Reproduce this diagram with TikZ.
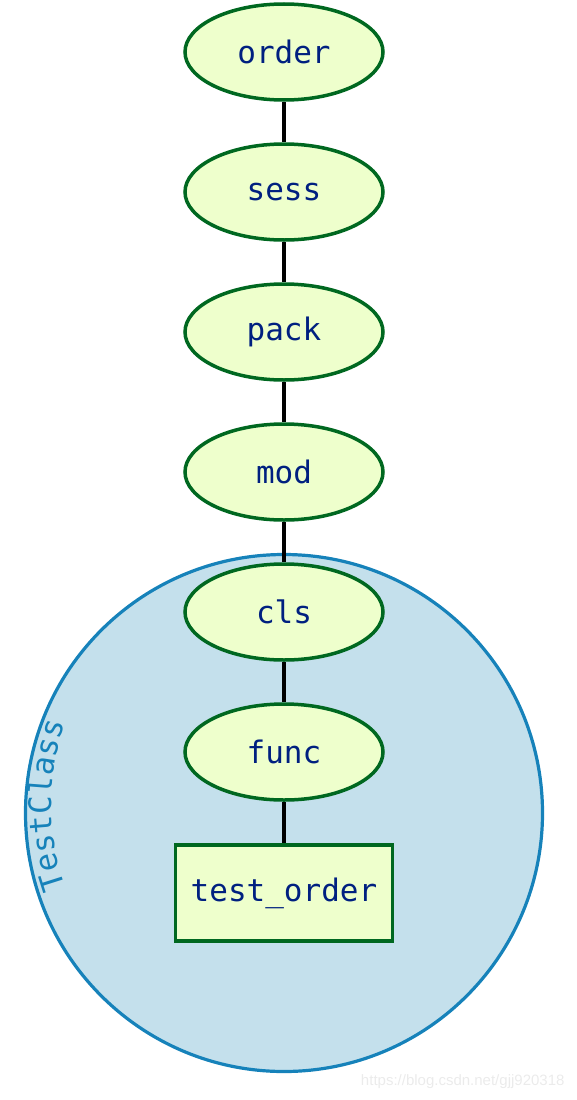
\documentclass[tikz,border=0pt]{standalone}
\usepackage{fontspec}
\setmonofont{DejaVu Sans Mono}
\newfontfamily\wmfont{Liberation Sans}
\usetikzlibrary{shapes.geometric}
\definecolor{nodefill}{RGB}{238,255,204}
\definecolor{nodeline}{RGB}{0,104,32}
\definecolor{nodetext}{RGB}{0,32,128}
\definecolor{clsfill}{RGB}{196,224,236}
\definecolor{clsline}{RGB}{22,130,186}

\begin{document}
\begin{tikzpicture}[x=1pt,y=-1pt,
  fixture/.style={ellipse,draw=nodeline,fill=nodefill,line width=3.5pt,minimum width=198pt,minimum height=96pt,inner sep=0pt,text=nodetext,font=\ttfamily\fontsize{31}{36}\selectfont},
  testbox/.style={rectangle,draw=nodeline,fill=nodefill,line width=3.5pt,minimum width=217pt,minimum height=96pt,inner sep=0pt,text=nodetext,font=\ttfamily\fontsize{31}{36}\selectfont},
  clslabel/.style={anchor=base,inner sep=0pt,text=clsline,font=\ttfamily\fontsize{31}{36}\selectfont},
  link/.style={line width=3.5pt,black}]
\useasboundingbox (0,0) rectangle (576,1100);
\node[circle,draw=clsline,fill=clsfill,line width=3.2pt,minimum size=517pt,inner sep=0pt] (testclass) at (284,813) {};
% cluster label, one letter at a time along the left rim
\foreach \ch [count=\i] in {T,e,s,t,C,l,a,s,s} {
  \pgfmathsetmacro\ang{(5-\i)*4.40}
  \node[clslabel,rotate=90+\ang] (lbl\i) at ({295+244*cos(180-\ang)},{805+244*sin(180-\ang)}) {\ch};
}
\node[fixture] (order) at (284,52) {order};
\node[fixture] (sess) at (284,192) {sess};
\node[fixture] (pack) at (284,332) {pack};
\node[fixture] (mod) at (284,472) {mod};
\node[fixture] (cls) at (284,612) {cls};
\node[fixture] (func) at (284,752) {func};
\node[testbox] (test_order) at (284,893) {test\_order};
\draw[link] (order) -- (sess);
\draw[link] (sess) -- (pack);
\draw[link] (pack) -- (mod);
\draw[link] (mod) -- (cls);
\draw[link] (cls) -- (func);
\draw[link] (func) -- (test_order);
\node[anchor=east,text=black!8,font=\wmfont\fontsize{15}{18}\selectfont] (watermark) at (568,1082) {https://blog.csdn.net/gjj920318};
\end{tikzpicture}
\end{document}
